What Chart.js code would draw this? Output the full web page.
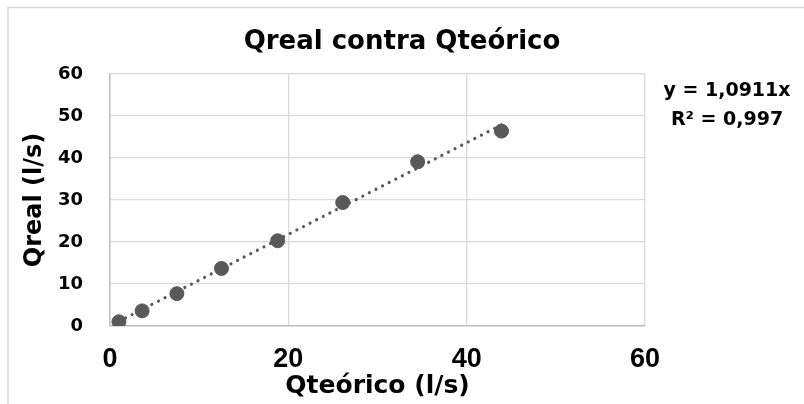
<!DOCTYPE html>
<html>
<head>
<meta charset="utf-8">
<title>Qreal contra Qteórico</title>
<script src="https://cdn.jsdelivr.net/npm/chart.js@4.4.1/dist/chart.umd.min.js"></script>
<style>
  html, body { margin: 0; padding: 0; background: #fff; overflow: hidden; }
  #wrap { position: relative; width: 804px; height: 404px; }
</style>
</head>
<body>
<div id="wrap"><canvas id="qChart"></canvas></div>
<script>
// ---- values ----
const qTeorico = [1.0, 3.6, 7.5, 12.5, 18.8, 26.1, 34.5, 43.9];
const qReal    = [1.0, 3.6, 7.7, 13.7, 20.3, 29.4, 39.1, 46.4];
const trendX   = [1.0, 43.9];
const trendY   = [1.1, 47.9];
const xTicks   = [0, 20, 40, 60];
const yTicks   = [0, 10, 20, 30, 40, 50, 60];
const eqLines  = ['y = 1,0911x', 'R² = 0,997'];

const GREY = '#595959';
const BOLD = 'DejaVu Sans';

// light frame round the chart (only top and left edges show)
const framePlugin = {
  id: 'frame',
  beforeDraw(chart) {
    const ctx = chart.ctx;
    ctx.save();
    ctx.fillStyle = '#fff';
    ctx.fillRect(0, 0, chart.width, chart.height);
    ctx.strokeStyle = '#d9d9d9';
    ctx.lineWidth = 1.5;
    ctx.beginPath();
    ctx.moveTo(8, chart.height);
    ctx.lineTo(8, 7.5);
    ctx.lineTo(chart.width, 7.5);
    ctx.stroke();
    ctx.restore();
  }
};

// trendline equation label on the right
const equationPlugin = {
  id: 'equation',
  afterDraw(chart) {
    const ctx = chart.ctx;
    const cx = chart.chartArea.right + 82;
    ctx.save();
    ctx.fillStyle = '#000';
    ctx.font = 'bold 19px "' + BOLD + '"';
    ctx.textAlign = 'center';
    ctx.textBaseline = 'alphabetic';
    eqLines.forEach((t, i) => ctx.fillText(t, cx, 96 + i * 29));
    ctx.restore();
  }
};

const ctx = document.getElementById('qChart');
new Chart(ctx, {
  type: 'scatter',
  data: {
    datasets: [
      {
        label: 'Qreal',
        data: qTeorico.map((x, i) => ({ x: x, y: qReal[i] })),
        backgroundColor: GREY,
        borderColor: GREY,
        pointRadius: 7,
        pointHoverRadius: 7,
        order: 1
      },
      {
        type: 'line',
        label: 'Lineal',
        data: trendX.map((x, i) => ({ x: x, y: trendY[i] })),
        borderColor: GREY,
        borderWidth: 3.2,
        borderDash: [0.01, 7.4],
        borderCapStyle: 'round',
        pointRadius: 0,
        fill: false,
        order: 0
      }
    ]
  },
  options: {
    responsive: true,
    maintainAspectRatio: false,
    animation: false,
    layout: { padding: 0 },
    plugins: {
      legend: { display: false },
      tooltip: { enabled: false },
      title: {
        display: true,
        text: 'Qreal contra Qteórico',
        color: '#000',
        font: { family: BOLD, size: 26, weight: 'bold' },
        padding: { top: 26.7, bottom: 16.1 }
      }
    },
    scales: {
      x: {
        type: 'linear',
        min: xTicks[0],
        max: xTicks[xTicks.length - 1],
        ticks: {
          stepSize: xTicks[1] - xTicks[0],
          color: '#000',
          padding: 17,
          font: { family: 'Liberation Sans', size: 27, weight: 'bold' }
        },
        grid: { color: '#d9d9d9', lineWidth: 1.3, drawTicks: false },
        border: { color: '#bfbfbf', width: 1.5 },
        title: {
          display: true,
          text: 'Qteórico (l/s)',
          color: '#000',
          font: { family: BOLD, size: 25, weight: 'bold' },
          padding: { top: 0, bottom: 2.7 }
        },
        afterFit: s => { s.height = 78; }
      },
      y: {
        type: 'linear',
        min: yTicks[0],
        max: yTicks[yTicks.length - 1],
        ticks: {
          stepSize: yTicks[1] - yTicks[0],
          color: '#000',
          padding: 27,
          font: { family: BOLD, size: 18, weight: 'bold' }
        },
        grid: { color: '#d9d9d9', lineWidth: 1.3, drawTicks: false },
        border: { color: '#bfbfbf', width: 1.5 },
        title: {
          display: true,
          text: 'Qreal (l/s)',
          color: '#000',
          font: { family: BOLD, size: 24, weight: 'bold' },
          padding: { top: 20.5, bottom: 0 }
        },
        afterFit: s => { s.width = 110; }
      },
      // empty right-hand box that leaves room for the equation
      side: {
        type: 'linear',
        position: 'right',
        display: true,
        grid: { display: false, drawTicks: false },
        border: { display: false },
        ticks: { display: false },
        afterFit: s => { s.width = 159; }
      }
    }
  },
  plugins: [framePlugin, equationPlugin]
});
</script>
</body>
</html>
